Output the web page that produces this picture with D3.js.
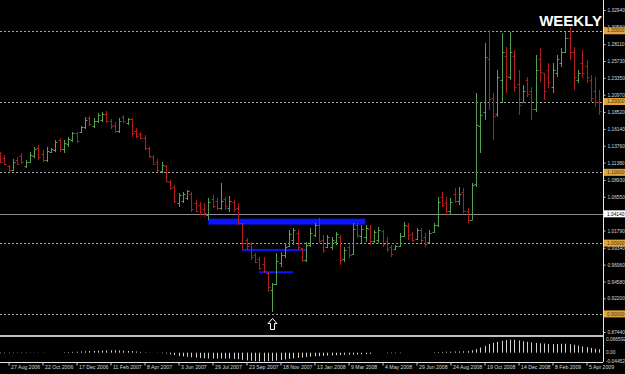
<!DOCTYPE html>
<html>
<head>
<meta charset="utf-8">
<script src="https://cdn.jsdelivr.net/npm/d3@7"></script>
<style>
body { margin: 0; background: #000; }
.chart-div { width: 625px; height: 374px; }
text { font-family: "Liberation Sans", Arial, sans-serif; }
</style>
</head>
<body>
<div class="chart-div"></div>
<script>
var width = 625;
var height = 374;

// weekly bars, the first one opens the week of 13 Aug 2006
const firstWeek = "2006-08-13";

const opens = [
  1.1250,1.1200,1.1090,1.1030,1.1180,1.1230,1.1090,1.1140,1.1230,1.1340,
  1.1260,1.1170,1.1290,1.1310,1.1450,1.1330,1.1400,1.1460,1.1560,1.1570,
  1.1640,1.1770,1.1660,1.1720,1.1740,1.1830,1.1730,1.1670,1.1580,1.1780,
  1.1700,1.1750,1.1580,1.1540,1.1490,1.1340,1.1220,1.1150,1.1020,1.1090,
  1.0870,1.0790,1.0560,1.0600,1.0640,1.0700,1.0560,1.0540,1.0480,1.0400,
  1.0620,1.0600,1.0500,1.0620,1.0500,1.0580,1.0490,1.0280,1.0050,0.9990,
  0.9830,0.9780,0.9700,0.9580,0.9340,0.9420,0.9720,0.9830,0.9960,1.0050,
  1.0150,0.9930,0.9760,0.9980,1.0120,1.0260,1.0050,0.9950,0.9950,1.0010,
  1.0090,0.9780,0.9950,0.9850,1.0250,1.0100,1.0080,1.0200,1.0030,1.0050,
  1.0170,1.0030,0.9950,0.9920,0.9960,1.0100,1.0240,1.0130,1.0060,1.0180,
  1.0080,1.0020,1.0160,1.0250,1.0650,1.0560,1.0450,1.0700,1.0600,1.0720,
  1.0450,1.0330,1.0830,1.1660,1.1850,1.2600,1.2050,1.1830,1.2300,1.2650,
  1.2350,1.2650,1.2250,1.2000,1.2300,1.2150,1.1900,1.2600,1.2400,1.2450,
  1.2200,1.2400,1.2550,1.2700,1.2900,1.2700,1.2300,1.2550,1.2500,1.2300,
  1.2150,1.2000
];
const highs = [
  1.1287,1.1245,1.1104,1.1188,1.1217,1.1273,1.1174,1.1287,1.1358,1.1386,
  1.1315,1.1358,1.1344,1.1457,1.1485,1.1457,1.1499,1.1570,1.1570,1.1655,
  1.1782,1.1796,1.1768,1.1838,1.1852,1.1867,1.1754,1.1711,1.1768,1.1810,
  1.1768,1.1768,1.1626,1.1570,1.1527,1.1358,1.1245,1.1188,1.1146,1.1104,
  1.0892,1.0821,1.0708,1.0722,1.0751,1.0722,1.0609,1.0581,1.0567,1.0637,
  1.0680,1.0637,1.0849,1.0651,1.0666,1.0609,1.0567,1.0284,1.0072,1.0015,
  0.9860,0.9804,0.9804,0.9592,0.9436,0.9860,0.9874,1.0001,1.0185,1.0213,
  1.0185,0.9931,1.0015,1.0213,1.0284,1.0355,1.0114,1.0114,1.0086,1.0157,
  1.0114,0.9945,0.9973,1.0284,1.0284,1.0256,1.0256,1.0256,1.0185,1.0228,
  1.0185,1.0086,0.9973,0.9973,1.0143,1.0298,1.0284,1.0157,1.0213,1.0213,
  1.0143,1.0185,1.0284,1.0651,1.0722,1.0651,1.0637,1.0779,1.0793,1.0779,
  1.0496,1.0849,1.2121,1.1994,1.2827,1.3011,1.2121,1.2446,1.2969,1.2771,
  1.2983,1.2729,1.2446,1.2234,1.2347,1.2206,1.2658,1.2757,1.2404,1.2545,
  1.2545,1.2658,1.2757,1.2983,1.3053,1.2771,1.2446,1.2729,1.2587,1.2375,
  1.2347,1.2164
];
const lows = [
  1.1132,1.1104,1.1005,1.1019,1.1104,1.1118,1.1061,1.1132,1.1202,1.1174,
  1.1146,1.1146,1.1273,1.1287,1.1287,1.1273,1.1358,1.1429,1.1414,1.1556,
  1.1612,1.1655,1.1626,1.1697,1.1711,1.1697,1.1612,1.1556,1.1556,1.1697,
  1.1669,1.1499,1.1485,1.1471,1.1315,1.1202,1.1104,1.1005,1.0991,1.0863,
  1.0751,1.0567,1.0510,1.0567,1.0609,1.0439,1.0439,1.0397,1.0369,1.0327,
  1.0496,1.0468,1.0468,1.0468,1.0439,1.0439,1.0256,0.9903,0.9903,0.9761,
  0.9719,0.9620,0.9578,0.9309,0.9027,0.9408,0.9662,0.9789,0.9945,0.9973,
  0.9903,0.9733,0.9733,0.9945,1.0086,1.0001,0.9860,0.9931,0.9903,0.9973,
  0.9691,0.9733,0.9789,0.9832,1.0072,1.0001,1.0015,0.9973,1.0001,1.0001,
  0.9945,0.9874,0.9804,0.9903,0.9945,1.0086,1.0044,1.0015,1.0044,1.0001,
  0.9945,1.0001,1.0143,1.0227,1.0510,1.0397,1.0397,1.0567,1.0538,1.0425,
  1.0284,1.0327,1.0793,1.1273,1.1740,1.1881,1.1457,1.1782,1.1980,1.2121,
  1.2305,1.2135,1.1810,1.1994,1.2065,1.1740,1.1852,1.2276,1.2022,1.2192,
  1.2121,1.2347,1.2488,1.2686,1.2587,1.2164,1.2262,1.2333,1.2262,1.1994,
  1.1924,1.1810
];
const closes = [
  1.1150,1.1120,1.1030,1.1150,1.1120,1.1150,1.1140,1.1250,1.1330,1.1220,
  1.1170,1.1300,1.1330,1.1430,1.1330,1.1420,1.1470,1.1550,1.1440,1.1640,
  1.1740,1.1690,1.1730,1.1810,1.1830,1.1720,1.1660,1.1590,1.1730,1.1720,
  1.1750,1.1560,1.1510,1.1490,1.1340,1.1230,1.1120,1.1030,1.1110,1.0880,
  1.0780,1.0600,1.0680,1.0700,1.0730,1.0480,1.0460,1.0440,1.0420,1.0580,
  1.0530,1.0500,1.0600,1.0520,1.0600,1.0480,1.0290,1.0000,0.9960,0.9800,
  0.9740,0.9650,0.9600,0.9380,0.9420,0.9750,0.9830,0.9950,1.0130,1.0180,
  0.9950,0.9760,0.9980,1.0150,1.0250,1.0030,0.9900,1.0080,1.0050,1.0130,
  0.9760,0.9900,0.9830,1.0200,1.0110,1.0200,1.0220,1.0030,1.0160,1.0180,
  0.9990,0.9920,0.9840,0.9960,1.0100,1.0260,1.0120,1.0050,1.0180,1.0050,
  0.9990,1.0150,1.0250,1.0580,1.0540,1.0450,1.0580,1.0600,1.0700,1.0460,
  1.0320,1.0820,1.1670,1.1810,1.2630,1.2040,1.1800,1.2350,1.2700,1.2360,
  1.2700,1.2200,1.1950,1.2150,1.2100,1.1900,1.2450,1.2420,1.2150,1.2280,
  1.2450,1.2600,1.2700,1.2900,1.2700,1.2350,1.2400,1.2400,1.2350,1.2050,
  1.2000,1.1870
];

// oscillator histogram in the lower window
const histo = [
  -0.003,-0.003,-0.003,-0.002,-0.002,-0.002,-0.002,-0.001,-0.001,-0.001,-0.001,0,
  0,0,0,
  0.002,0.003,0.004,0.005,0.006,0.007,0.008,0.009,0.010,0.011,
  0.011,0.012,0.012,0.011,0.010,0.009,0.008,0.006,0.004,0.002,
  0.001,0,-0.001,-0.002,-0.004,
  -0.008,-0.012,-0.016,-0.019,-0.021,-0.023,-0.025,-0.027,-0.028,-0.029,-0.030,-0.030,
  -0.030,-0.030,-0.030,-0.031,-0.033,-0.036,-0.039,-0.041,-0.043,-0.044,-0.044,-0.043,
  -0.042,-0.040,-0.037,-0.034,-0.031,-0.028,-0.026,-0.024,-0.022,-0.020,-0.018,-0.017,
  -0.016,-0.015,-0.014,
  -0.013,-0.012,-0.011,-0.010,-0.010,-0.009,-0.008,-0.007,-0.006,
  0,0,0,
  -0.003,-0.003,-0.003,-0.002,
  0,0,0,0,0,0,0,
  0.002,0.003,0.004,0.005,0.005,0.006,0.006,0.007,0.008,
  0.012,0.018,0.026,0.034,0.044,0.050,0.055,0.060,0.064,0.066,0.065,0.062,0.058,
  0.055,0.052,0.049,0.047,0.046,0.044,0.043,0.044,0.045,0.045,0.043,0.040,0.036,
  0.032,0.028,0.024,0.020,0.017
];

const priceTicks = [1.32940,1.30560,1.28110,1.25730,1.23350,1.20970,1.18520,1.16140,1.13760,
  1.11380,1.08930,1.06550,1.04170,1.01790,0.99340,0.96960,0.94580,0.92200,0.89820,0.87440];
const levels = [1.30, 1.20, 1.10, 1.00, 0.90];
const markLine = 1.04140;
const dateTicks = ["2006-08-27","2006-10-22","2006-12-17","2007-02-11","2007-04-08","2007-06-03",
  "2007-07-29","2007-09-23","2007-11-18","2008-01-13","2008-03-09","2008-05-04","2008-06-29",
  "2008-08-24","2008-10-19","2008-12-14","2009-02-08","2009-04-05"];
const histoTicks = [0.066592, 0, -0.044523];
const histoLabels = ["0.066592", "0.00", "-0.04452"];

// blue support zones: from, to, low price, high price
const zoneFrom = ["2007-07-22", "2007-09-16", "2007-10-14"];
const zoneTo = ["2008-04-06", "2007-12-30", "2007-12-09"];
const zoneLow = [1.0262, 0.9896, 0.9583];
const zoneHigh = [1.0345, 0.9918, 0.9603];

const arrowWeek = "2007-11-04";
const arrowPrice = 0.8935;

const parse = d3.utcParse("%Y-%m-%d");
const week0 = parse(firstWeek);
const weeks = opens.map((d, i) => d3.utcWeek.offset(week0, i));

const svg = d3.select(".chart-div").append("svg")
    .attr("width", width)
    .attr("height", height)
    .style("background", "#000");

const x = d3.scaleUtc()
    .domain([parse("2006-08-27"), parse("2009-04-05")])
    .range([8.5, 586.5]);

const y = d3.scaleLinear()
    .domain([0.8702, 1.3435])
    .range([335, 0]);

const yInd = d3.scaleLinear()
    .domain([-0.044523, 0.066592])
    .range([361.5, 339.5]);

const axisX = 603;
const fs = "4.8px";
const px = d => Math.round(x(d)) + 0.5;

// horizontal levels
svg.append("g").selectAll("line")
  .data(levels)
  .join("line")
    .attr("x1", 0).attr("x2", axisX)
    .attr("y1", d => Math.round(y(d)) + 0.5)
    .attr("y2", d => Math.round(y(d)) + 0.5)
    .attr("stroke", "#a8a8a8")
    .attr("stroke-dasharray", "2,2");

svg.append("line")
    .attr("x1", 0).attr("x2", axisX)
    .attr("y1", Math.round(y(markLine)) + 0.5)
    .attr("y2", Math.round(y(markLine)) + 0.5)
    .attr("stroke", "#8c8c8c");

// zones
svg.append("g").selectAll("rect")
  .data(zoneFrom)
  .join("rect")
    .attr("x", (d, i) => x(parse(d)))
    .attr("width", (d, i) => x(parse(zoneTo[i])) - x(parse(d)))
    .attr("y", (d, i) => y(zoneHigh[i]))
    .attr("height", (d, i) => Math.max(2, y(zoneLow[i]) - y(zoneHigh[i])))
    .attr("fill", "#0a14ff");

// OHLC bars
const bars = svg.append("g").selectAll("g")
  .data(d3.range(opens.length))
  .join("g")
    .attr("stroke", i => closes[i] >= opens[i] ? "#55a055" : "#b21e1e");

bars.append("line")
    .attr("x1", i => px(weeks[i])).attr("x2", i => px(weeks[i]))
    .attr("y1", i => y(highs[i])).attr("y2", i => y(lows[i]));
bars.append("line")
    .attr("x1", i => px(weeks[i]) - 2).attr("x2", i => px(weeks[i]))
    .attr("y1", i => Math.round(y(opens[i])) + 0.5)
    .attr("y2", i => Math.round(y(opens[i])) + 0.5);
bars.append("line")
    .attr("x1", i => px(weeks[i])).attr("x2", i => px(weeks[i]) + 2)
    .attr("y1", i => Math.round(y(closes[i])) + 0.5)
    .attr("y2", i => Math.round(y(closes[i])) + 0.5);

// arrow under the low
const ax = px(parse(arrowWeek)), ay = y(arrowPrice);
svg.append("path")
    .attr("d", `M${ax},${ay} L${ax + 4.5},${ay + 5} L${ax + 2},${ay + 5} L${ax + 2},${ay + 11}
      L${ax - 2},${ay + 11} L${ax - 2},${ay + 5} L${ax - 4.5},${ay + 5} Z`)
    .attr("fill", "none")
    .attr("stroke", "#fff");

// indicator window
svg.append("line")
    .attr("x1", 0).attr("x2", axisX)
    .attr("y1", 336).attr("y2", 336)
    .attr("stroke", "#bdbdbd")
    .attr("stroke-width", 2);

svg.append("g").selectAll("line")
  .data(d3.range(histo.length))
  .join("line")
    .attr("x1", i => px(weeks[i])).attr("x2", i => px(weeks[i]))
    .attr("y1", yInd(0))
    .attr("y2", i => yInd(histo[i]))
    .attr("stroke", "#d2d2d2");

// price axis
svg.append("line")
    .attr("x1", axisX + 0.5).attr("x2", axisX + 0.5)
    .attr("y1", 0).attr("y2", 362)
    .attr("stroke", "#e6e6e6");

const yAxis = svg.append("g")
    .attr("transform", `translate(${axisX + 0.5},0)`)
    .call(d3.axisRight(y).tickValues(priceTicks).tickFormat(d3.format(".5f")).tickSize(2).tickPadding(2));
yAxis.select(".domain").remove();
yAxis.selectAll("line").attr("stroke", "#cfcfcf");
yAxis.selectAll("text").attr("fill", "#d8d8d8").style("font-size", fs);

const levelTags = svg.append("g").selectAll("g")
  .data(levels)
  .join("g")
    .attr("transform", d => `translate(${axisX + 1},${y(d)})`);
levelTags.append("rect")
    .attr("x", 0).attr("y", -3.5).attr("width", 21).attr("height", 7)
    .attr("fill", "#e2a640");
levelTags.append("text")
    .attr("x", 3).attr("dy", "0.35em")
    .attr("fill", "#4a3000")
    .style("font-size", fs)
    .text(d => d.toFixed(5));

const markTag = svg.append("g")
    .attr("transform", `translate(${axisX + 1},${y(markLine)})`);
markTag.append("rect")
    .attr("x", 0).attr("y", -3.5).attr("width", 21).attr("height", 7)
    .attr("fill", "#fff");
markTag.append("text")
    .attr("x", 3).attr("dy", "0.35em")
    .attr("fill", "#000")
    .style("font-size", fs)
    .text(markLine.toFixed(5));

svg.append("g").selectAll("text")
  .data(histoTicks)
  .join("text")
    .attr("x", axisX + 3)
    .attr("y", d => yInd(d))
    .attr("dy", "0.35em")
    .attr("fill", "#d8d8d8")
    .style("font-size", fs)
    .text((d, i) => histoLabels[i]);

// time axis
const xAxis = svg.append("g")
    .attr("transform", "translate(0,362.5)")
    .call(d3.axisBottom(x).tickValues(dateTicks.map(parse))
      .tickFormat(d3.utcFormat("%-d %b %Y")).tickSize(3).tickSizeOuter(0));
xAxis.select(".domain").attr("d", `M0,0H${axisX}`).attr("stroke", "#e6e6e6");
xAxis.selectAll(".tick line").attr("stroke", "#cfcfcf");
xAxis.selectAll(".tick text")
    .attr("fill", "#d8d8d8")
    .attr("text-anchor", "start")
    .attr("x", 2).attr("y", 3).attr("dy", "0.71em")
    .style("font-size", "5.2px");

svg.append("text")
    .attr("x", 602).attr("y", 25.5)
    .attr("text-anchor", "end")
    .attr("fill", "#fff")
    .style("font-size", "15px")
    .style("font-weight", "bold")
    .text("WEEKLY");
</script>
</body>
</html>
